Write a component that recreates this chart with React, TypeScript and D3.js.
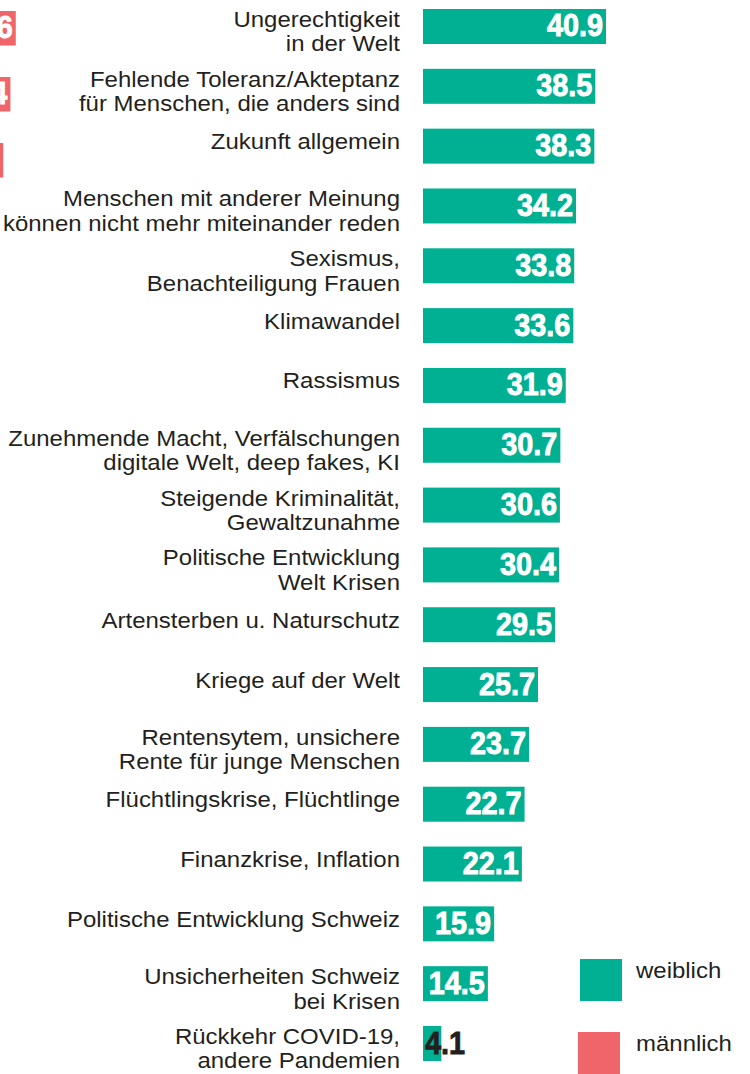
import React from "react";
import * as d3 from "d3";

const categories: string[] = [
  "Ungerechtigkeit\nin der Welt",
  "Fehlende Toleranz/Akteptanz\nfür Menschen, die anders sind",
  "Zukunft allgemein",
  "Menschen mit anderer Meinung\nkönnen nicht mehr miteinander reden",
  "Sexismus,\nBenachteiligung Frauen",
  "Klimawandel",
  "Rassismus",
  "Zunehmende Macht, Verfälschungen\ndigitale Welt, deep fakes, KI",
  "Steigende Kriminalität,\nGewaltzunahme",
  "Politische Entwicklung\nWelt Krisen",
  "Artensterben u. Naturschutz",
  "Kriege auf der Welt",
  "Rentensytem, unsichere\nRente für junge Menschen",
  "Flüchtlingskrise, Flüchtlinge",
  "Finanzkrise, Inflation",
  "Politische Entwicklung Schweiz",
  "Unsicherheiten Schweiz\nbei Krisen",
  "Rückkehr COVID-19,\nandere Pandemien",
];

const weiblich: number[] = [
  40.9, 38.5, 38.3, 34.2, 33.8, 33.6, 31.9, 30.7, 30.6, 30.4, 29.5, 25.7, 23.7,
  22.7, 22.1, 15.9, 14.5, 4.1,
];

// male panel lies mostly outside the frame (only the bar ends are visible)
const maennlich: number[] = [36.6, 35.4, 33.8];

const legendItems: string[] = ["weiblich", "männlich"];

const GREEN = "#00B093";
const RED = "#F0656A";
const TEXT = "#231F20";
const LABEL_FONT = "'Liberation Sans', Arial, Helvetica, sans-serif";
const VALUE_FONT = "'Liberation Sans', Arial, Helvetica, sans-serif";

function ValueText(props: {
  x: number;
  y: number;
  anchor: "start" | "end";
  fill: string;
  text: string;
}) {
  const { x, y, anchor, fill, text } = props;
  return (
    <g transform={`translate(${x},${y}) scale(0.9,1)`}>
      <text
        x={0}
        y={0}
        textAnchor={anchor}
        fill={fill}
        stroke={fill}
        strokeWidth={0.9}
        fontFamily={VALUE_FONT}
        fontWeight="bold"
        fontSize={32}
      >
        {text}
      </text>
    </g>
  );
}

export default function App() {
  const W = 750;
  const H = 1074;
  const x = d3.scaleLinear().domain([0, 40.9]).range([423, 606]);
  const xm = d3.scaleLinear().domain([0, 40.9]).range([-148, 35]);
  const y = d3
    .scaleBand<number>()
    .domain(d3.range(categories.length))
    .range([9, 1061])
    .paddingInner(0.415)
    .paddingOuter(0);
  const ym = d3
    .scaleBand<number>()
    .domain(d3.range(categories.length))
    .range([11, 11 + 17 * 66 + 34.5])
    .paddingInner(0.477)
    .paddingOuter(0);
  const bw = y.bandwidth();
  const bwm = ym.bandwidth();
  const LABEL_X = 400;
  const LINE = 24.5;
  const SX = 1.09;

  return (
    <svg
      width={W}
      height={H}
      style={{ position: "absolute", left: 0, top: 0 }}
      viewBox={`0 0 ${W} ${H}`}
    >
      <rect x={0} y={0} width={W} height={H} fill="#fff" />
      {/* male panel (clipped at left edge) */}
      {maennlich.map((v, i) => {
        const y0 = ym(i)!;
        const xe = xm(v);
        return (
          <g key={"m" + i}>
            <rect x={xm(0)} y={y0} width={xe - xm(0)} height={bwm} fill={RED} />
            <ValueText
              x={xe - 3}
              y={y0 + bwm / 2 + 10}
              anchor="end"
              fill="#fff"
              text={v.toFixed(1)}
            />
          </g>
        );
      })}
      {categories.map((c, i) => {
        const lines = c.split("\n");
        const y0 = y(i)!;
        const cy = y0 + bw / 2;
        const first = lines.length > 1 ? cy + 0.5 : cy + 3;
        return (
          <g key={"l" + i} transform={`translate(${LABEL_X},0) scale(${SX},1)`}>
            <text
              textAnchor="end"
              fontFamily={LABEL_FONT}
              fontSize={22}
              fill={TEXT}
            >
              {lines.map((ln, j) => (
                <tspan key={j} x={0} y={first + j * LINE}>
                  {ln}
                </tspan>
              ))}
            </text>
          </g>
        );
      })}
      {weiblich.map((v, i) => {
        const y0 = y(i)!;
        const x0 = x(0);
        const xe = x(v);
        const inside = xe - x0 > 45;
        return (
          <g key={"b" + i}>
            <rect x={x0} y={y0} width={xe - x0} height={bw} fill={GREEN} />
            <ValueText
              x={inside ? xe - 3 : x0 + 2}
              y={y0 + bw / 2 + 10}
              anchor={inside ? "end" : "start"}
              fill={inside ? "#fff" : TEXT}
              text={v.toFixed(1)}
            />
          </g>
        );
      })}
      {legendItems.map((name, i) => {
        const ly = 959 + i * 73;
        const lx = 580 - i * 2;
        return (
          <g key={"lg" + i}>
            <rect x={lx} y={ly} width={42} height={42} fill={i === 0 ? GREEN : RED} />
            <g transform={`translate(636,${ly + 19}) scale(${SX},1)`}>
              <text x={0} y={0} fontFamily={LABEL_FONT} fontSize={22} fill={TEXT}>
                {name}
              </text>
            </g>
          </g>
        );
      })}
    </svg>
  );
}
